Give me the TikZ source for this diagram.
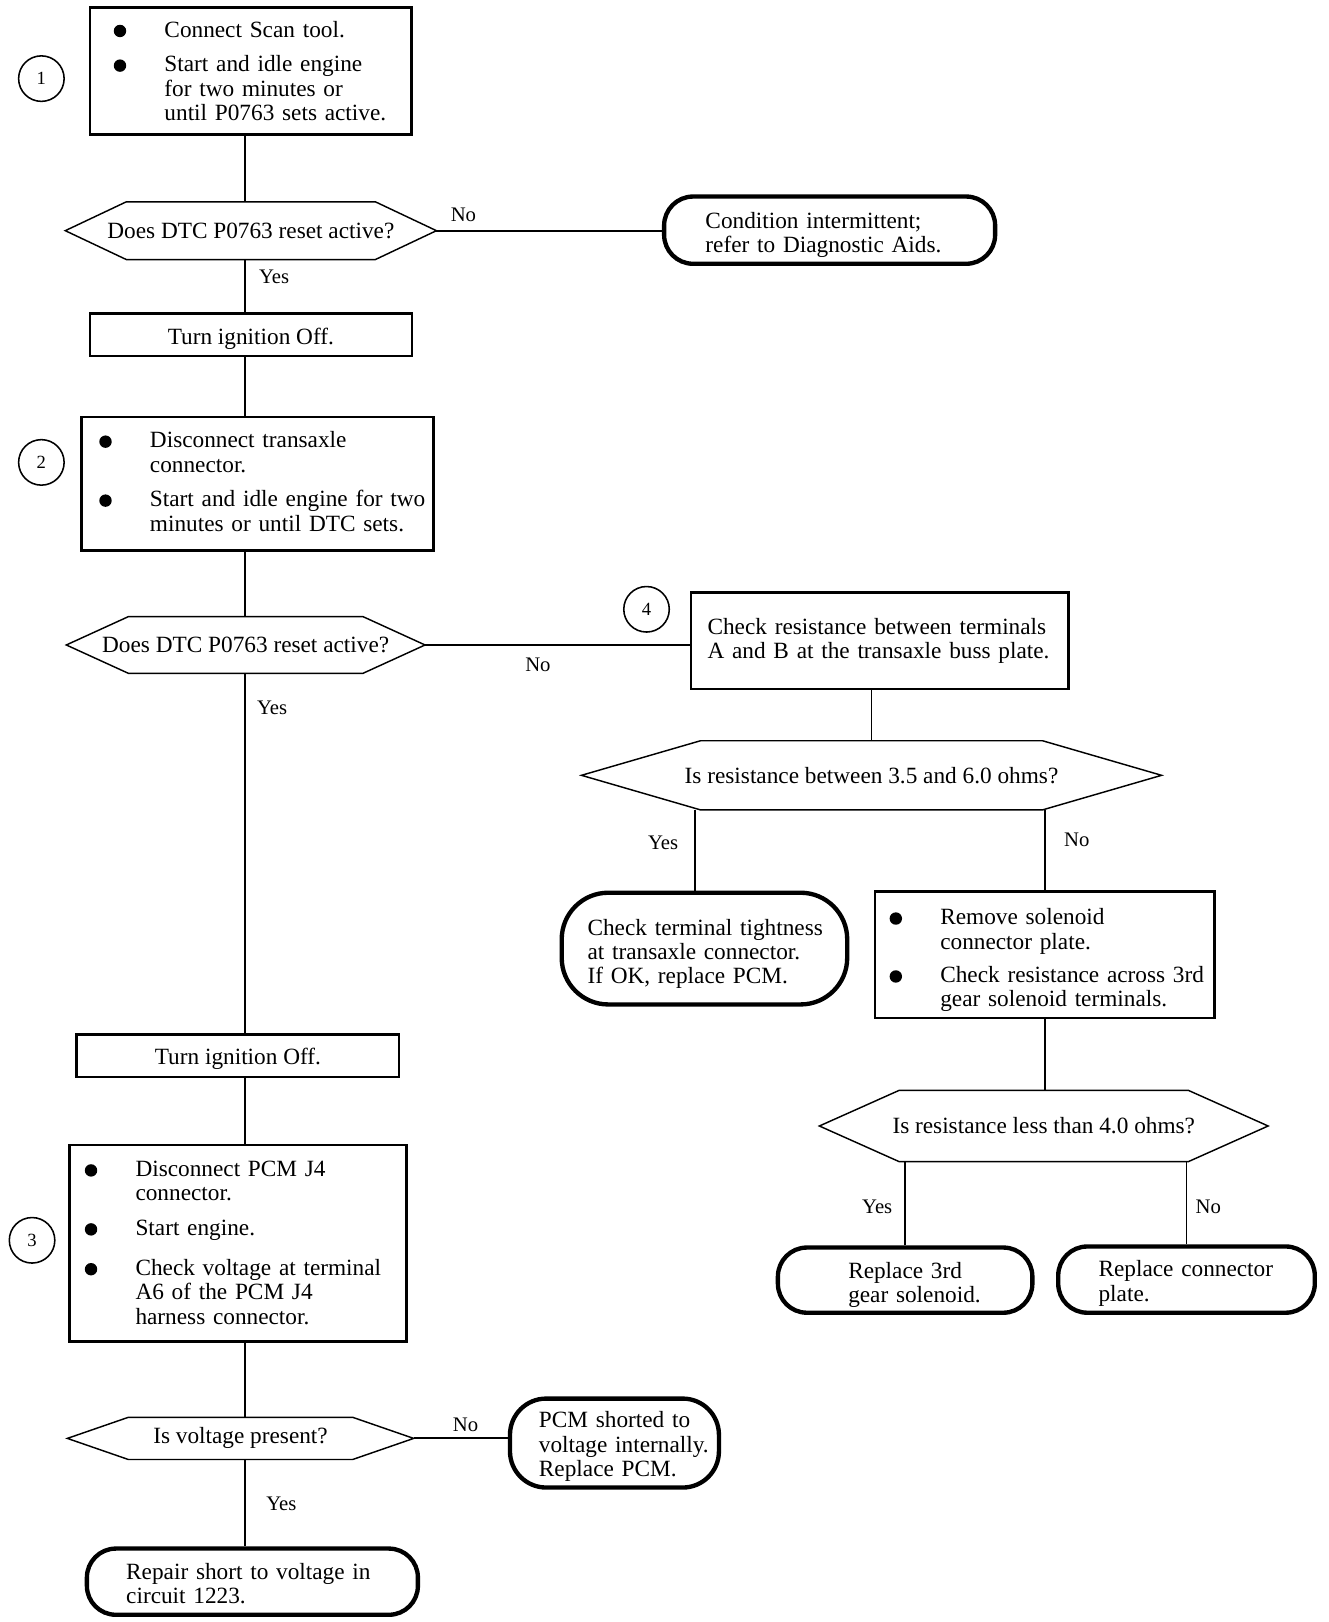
\documentclass[tikz,border=0pt]{standalone}
\usepackage{fontspec}
\setmainfont{Liberation Serif}

\newcommand\blt{\hspace*{1.5pt}\tikz[baseline=-6pt]\fill (0pt,0pt) circle (6pt);}
\newcommand\txtrows[2][0pt]{\begin{tabular}{@{}l@{}}\noalign{\vskip#1}#2\end{tabular}}
\newcommand\bltrows[2][0pt]{\begin{tabular}{@{}p{50.5pt}@{}l@{}}\noalign{\vskip#1}#2\end{tabular}}

\begin{document}
\begin{tikzpicture}[x=1pt, y=-1pt, line width=1.8pt]
    \tikzstyle{stepbox}=[draw, rectangle, line width=2.5pt, align=left, inner ysep=0pt, font=\fontsize{22.5}{23.5}\selectfont];
    \tikzstyle{offbox}=[draw, rectangle, line width=2.3pt, minimum width=311pt, minimum height=41pt, inner sep=0pt, font=\fontsize{22.5}{23.5}\selectfont];
    \tikzstyle{decision}=[rectangle, inner sep=0pt, font=\fontsize{22.5}{23.5}\selectfont];
    \tikzstyle{ovalbox}=[draw, rectangle, rounded corners=28pt, line width=4.2pt, align=left, inner ysep=0pt, font=\fontsize{22.5}{23.5}\selectfont];
    \tikzstyle{numcirc}=[draw, circle, line width=1.5pt, minimum size=44pt, inner sep=0pt, font=\fontsize{18}{18}\selectfont];
    \tikzstyle{lbl}=[inner sep=0pt, font=\fontsize{20}{20}\selectfont];

    \useasboundingbox (0,0) rectangle (1284,1568);
    \coordinate (trunk) at (237,0);

    % left column
    \node[stepbox, text width=268pt, inner xsep=21.5pt, minimum height=123pt] (check1) at (242.5,68.5)
        {\bltrows[6pt]{
        \blt & Connect Scan tool.\\[10pt]
        \blt & Start and idle engine\\
             & for two minutes or\\
             & until P0763 sets active.}};
    \node[numcirc] (n1) at (40,76) {1};
    \node[decision, minimum width=357pt, minimum height=54pt] (reset1) at (242.5,223) {Does DTC P0763 reset active?};
    \node[ovalbox, text width=240pt, inner xsep=40pt, minimum height=65pt] (intermit) at (802,222.5)
        {\txtrows[10pt]{Condition intermittent;\\refer to Diagnostic Aids.}};
    \node[offbox] (off1) at (242.5,323.5) {\txtrows[10pt]{Turn ignition Off.}};
    \node[stepbox, text width=309pt, inner xsep=15.5pt, minimum height=129pt] (check2) at (249,467.5)
        {\bltrows[2pt]{
        \blt & Disconnect transaxle\\
             & connector.\\[10pt]
        \blt & Start and idle engine for two\\
             & minutes or until DTC sets.}};
    \node[numcirc] (n2) at (40,447) {2};
    \node[decision, minimum width=345pt, minimum height=53pt] (reset2) at (237.5,623.5) {Does DTC P0763 reset active?};
    \node[offbox, minimum width=312pt] (off2) at (230,1020.5) {\txtrows[8pt]{Turn ignition Off.}};
    \node[stepbox, text width=299pt, inner xsep=13.5pt, minimum height=190pt] (check3) at (230,1202)
        {\bltrows[4pt]{
        \blt & Disconnect PCM J4\\
             & connector.\\[10pt]
        \blt & Start engine.\\[15pt]
        \blt & Check voltage at terminal\\
             & A6 of the PCM J4\\
             & harness connector.}};
    \node[numcirc] (n3) at (31,1199) {3};
    \node[decision, minimum width=333pt, minimum height=39pt] (volt) at (232.5,1390.5) {Is voltage present?};
    \node[ovalbox, rounded corners=35pt, text width=146pt, inner xsep=28pt, minimum height=86pt] (pcmshort) at (594,1395)
        {\txtrows[8pt]{PCM shorted to\\voltage internally.\\Replace PCM.}};
    \node[ovalbox, text width=244pt, inner xsep=38pt, minimum height=64pt] (repair) at (244,1529)
        {\txtrows[10pt]{Repair short to voltage in\\circuit 1223.}};

    % right branch
    \node[numcirc] (n4) at (625,589) {4};
    \node[stepbox, text width=333pt, inner xsep=16pt, minimum height=93pt] (resist) at (850.5,619.5)
        {Check resistance between terminals\\A and B at the transaxle buss plate.};
    \node[decision, minimum width=559pt, minimum height=65pt] (range) at (842.5,749.5) {Is resistance between 3.5 and 6.0 ohms?};
    \node[ovalbox, rounded corners=45pt, text width=226pt, inner xsep=25pt, minimum height=108pt] (tight) at (681,917)
        {\txtrows[12pt]{Check terminal tightness\\at transaxle connector.\\If OK, replace PCM.}};
    \node[stepbox, text width=303pt, inner xsep=12.5pt, minimum height=122pt] (solenoid) at (1010,923)
        {\bltrows[12pt]{
        \blt & Remove solenoid\\
             & connector plate.\\[9pt]
        \blt & Check resistance across 3rd\\
             & gear solenoid terminals.}};
    \node[decision, minimum width=432pt, minimum height=67pt] (less) at (1009,1088.5) {Is resistance less than 4.0 ohms?};
    \node[ovalbox, text width=110pt, inner xsep=68pt, minimum height=63pt] (repl3) at (875,1237.5)
        {\txtrows[11pt]{Replace 3rd\\gear solenoid.}};
    \node[ovalbox, text width=170pt, inner xsep=39pt, minimum height=64pt] (replplate) at (1147,1237)
        {\txtrows[9pt]{Replace connector\\plate.}};

    % decision outlines
    \foreach \d/\c in {reset1/59, reset2/60, range/115, less/77, volt/59}
        \draw[line width=1.4pt] (\d.west) -- ([xshift=\c pt]\d.north west) -- ([xshift=-\c pt]\d.north east)
            -- (\d.east) -- ([xshift=-\c pt]\d.south east) -- ([xshift=\c pt]\d.south west) -- cycle;

    % connectors
    \draw (check1.south -| trunk) -- (reset1.north -| trunk);
    \draw (reset1.south -| trunk) -- (off1.north -| trunk);
    \draw (off1.south -| trunk) -- (check2.north -| trunk);
    \draw (check2.south -| trunk) -- (reset2.north -| trunk);
    \draw (reset2.south -| trunk) -- (off2.north -| trunk);
    \draw (off2.south -| trunk) -- (check3.north -| trunk);
    \draw (check3.south -| trunk) -- (volt.north -| trunk);
    \draw (volt.south -| trunk) -- (repair.north -| trunk);
    \draw (reset1.east) -- (reset1.east -| intermit.west);
    \draw (reset2.east) -- (reset2.east -| resist.west);
    \draw (range.north) -- (range.north |- resist.south);
    \draw ([xshift=-9pt]tight.north) -- ([xshift=-9pt]tight.north |- range.south);
    \draw (solenoid.north) -- (solenoid.north |- range.south);
    \draw (solenoid.south) -- (solenoid.south |- less.north);
    \draw (repl3.north) -- (repl3.north |- less.south);
    \draw (replplate.north) -- (replplate.north |- less.south);
    \draw (volt.east) -- (volt.east -| pcmshort.west);

    % branch labels
    \node[lbl] (no1) at (448,208) {No};
    \node[lbl] (yes1) at (265,268) {Yes};
    \node[lbl] (no2) at (520,643) {No};
    \node[lbl] (yes2) at (263,684) {Yes};
    \node[lbl] (yes3) at (641,815) {Yes};
    \node[lbl] (no3) at (1041,812) {No};
    \node[lbl] (yes4) at (848,1167) {Yes};
    \node[lbl] (no4) at (1168,1167) {No};
    \node[lbl] (no5) at (450,1377) {No};
    \node[lbl] (yes5) at (272,1454) {Yes};
\end{tikzpicture}
\end{document}
